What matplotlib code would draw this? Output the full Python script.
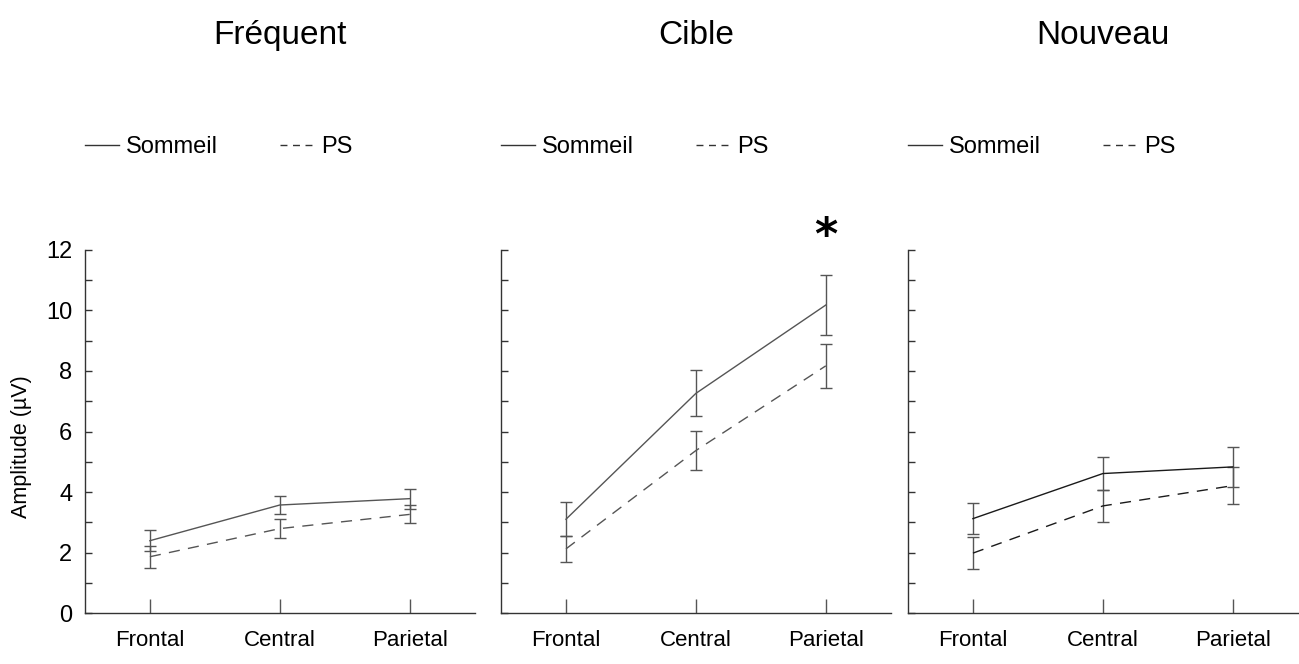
import matplotlib
matplotlib.use('Agg')
import matplotlib.pyplot as plt
from matplotlib.lines import Line2D
from matplotlib.ticker import MultipleLocator

plt.rcParams['font.family'] = ['Liberation Sans', 'DejaVu Sans']

categories = ['Frontal', 'Central', 'Parietal']
conditions = ['Fréquent', 'Cible', 'Nouveau']

# mean amplitude (uV) and error, one row per condition
sommeil = [[2.39, 3.57, 3.78], [3.10, 7.26, 10.18], [3.12, 4.61, 4.83]]
sommeil_err = [[0.34, 0.30, 0.33], [0.57, 0.76, 0.98], [0.50, 0.56, 0.65]]
ps = [[1.86, 2.79, 3.26], [2.12, 5.37, 8.17], [1.98, 3.54, 4.21]]
ps_err = [[0.36, 0.31, 0.30], [0.43, 0.64, 0.72], [0.52, 0.54, 0.60]]

line_colors = ['#555555', '#555555', '#1a1a1a']
dash = (0, (8, 6))

fig = plt.figure(figsize=(12.99, 6.64), dpi=100)
x = [1, 2, 3]
lefts = [0.0654, 0.3857, 0.699]

for i, cond in enumerate(conditions):
    ax = fig.add_axes([lefts[i], 0.0768, 0.300, 0.5467])
    c = line_colors[i]
    ax.errorbar(x, sommeil[i], yerr=sommeil_err[i], color=c, lw=1.0,
                ecolor='#555555', elinewidth=1.0, capsize=4, capthick=1.0)
    ax.errorbar(x, ps[i], yerr=ps_err[i], color=c, lw=1.0, ls=dash,
                ecolor='#555555', elinewidth=1.0, capsize=4, capthick=1.0)

    ax.set_xlim(0.5, 3.5)
    ax.set_ylim(0, 12)
    ax.set_xticks(x)
    ax.set_xticklabels(categories, fontsize=16)
    ax.yaxis.set_major_locator(MultipleLocator(2))
    ax.yaxis.set_minor_locator(MultipleLocator(1))
    ax.tick_params(axis='x', direction='in', length=10, width=1,
                   color='#555555', pad=12)
    ax.tick_params(axis='y', which='both', direction='in', length=5,
                   width=1, color='#333333', pad=9, labelsize=17)
    for s in ['top', 'right']:
        ax.spines[s].set_visible(False)
    for s in ['left', 'bottom']:
        ax.spines[s].set_color('#333333')
        ax.spines[s].set_linewidth(1.0)

    if i == 0:
        ax.set_ylabel('Amplitude (µV)', fontsize=15.5)
        ax.yaxis.set_label_coords(-0.135, 0.457)
    else:
        ax.set_yticklabels([])

    ax.text(0.5, 1.59, cond, transform=ax.transAxes, ha='center',
            va='center', fontsize=24)

    handles = [Line2D([], [], color='#333333', lw=1.0),
               Line2D([], [], color='#333333', lw=1.0, ls=(0, (5, 4)))]
    ax.legend(handles, ['Sommeil', 'PS'], loc='center left',
              bbox_to_anchor=(0.0, 1.284), ncol=2, frameon=False,
              fontsize=17, handlelength=1.45, handletextpad=0.3,
              columnspacing=2.6, borderpad=0, borderaxespad=0)

    if cond == 'Cible':
        ax.text(3, 12.45, '*', ha='center', va='center', fontsize=32,
                fontweight='bold', family='DejaVu Sans', clip_on=False)

fig.savefig('out.png', dpi=100)
